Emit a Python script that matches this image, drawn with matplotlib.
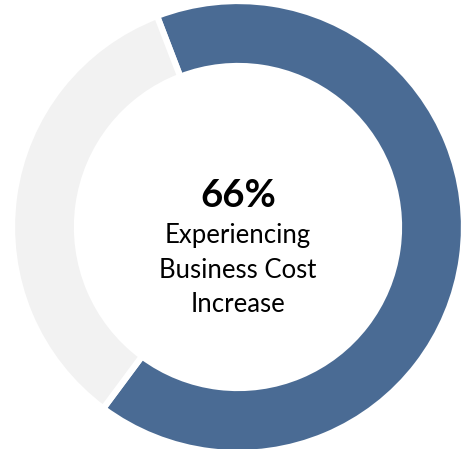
import matplotlib
matplotlib.use('Agg')
import matplotlib.pyplot as plt

# share of respondents
labels = ['Experiencing Business Cost Increase', 'Other']
values = [66, 34]
colors = ['#4A6B94', '#F2F2F2']
headline = '66%'
caption = 'Experiencing\nBusiness Cost\nIncrease'

plt.rcParams['font.family'] = ['Lato', 'DejaVu Sans']

fig = plt.figure(figsize=(4.62, 4.49), dpi=100)
ax = fig.add_axes([0, 0, 1, 1])

# donut ring, white edges give the gap between the two slices
ax.pie(values, colors=colors, startangle=111, counterclock=False,
       center=(238, 222), radius=226,
       wedgeprops=dict(width=65, edgecolor='white', linewidth=4.5))

ax.text(238, 253, headline, ha='center', va='center',
        fontsize=27.5, fontweight='bold', color='black')
ax.text(238, 179, caption, ha='center', va='center',
        fontsize=18.5, color='black', linespacing=1.48)

ax.set_xlim(0, 462)
ax.set_ylim(0, 449)
ax.set_aspect('equal')
ax.axis('off')

fig.savefig('out.png', dpi=100, facecolor='white')
